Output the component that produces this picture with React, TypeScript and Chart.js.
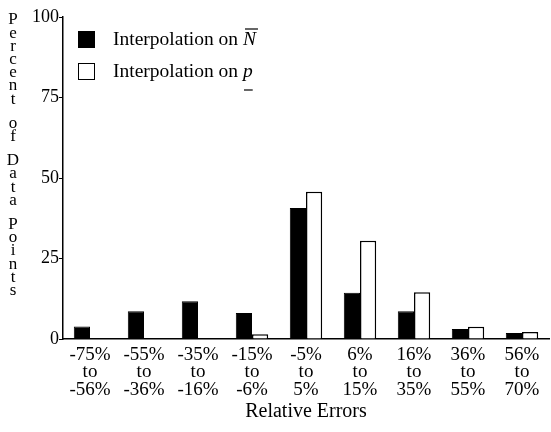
import React, { useEffect, useRef } from "react";
import { Chart, registerables } from "chart.js";

Chart.register(...registerables);

// Relative-error bins, one three-line label each
const categories: string[][] = [
  ["-75%", "to", "-56%"],
  ["-55%", "to", "-36%"],
  ["-35%", "to", "-16%"],
  ["-15%", "to", "-6%"],
  ["-5%", "to", "5%"],
  ["6%", "to", "15%"],
  ["16%", "to", "35%"],
  ["36%", "to", "55%"],
  ["56%", "to", "70%"],
];

// Percent of data points falling in each bin
const nBarValues = [3.9, 8.6, 11.7, 8.1, 40.7, 14.4, 8.6, 3.1, 1.9];
const pValues = [0, 0, 0, 1.5, 45.7, 30.5, 14.5, 3.8, 2.2];

const yTicks = [0, 25, 50, 75, 100];
const yTitle = "Percent of Data Points";
const xTitle = "Relative Errors";

const legendPrefix = "Interpolation on ";
const legendSymbols = ["N", "p"];
const legendMarks = ["over", "under"];

const SERIF = '"Liberation Serif", "Times New Roman", serif';

// Vertical axis title: upright letters stacked one above another
const stackedTitle = {
  id: "stackedTitle",
  afterDraw(chart: any) {
    const ctx = chart.ctx;
    ctx.save();
    ctx.font = `17px ${SERIF}`;
    ctx.fillStyle = "#000";
    ctx.textAlign = "center";
    ctx.textBaseline = "middle";
    let y = 20;
    for (const word of yTitle.split(" ")) {
      for (const ch of word) {
        ctx.fillText(ch, 13, y);
        y += 13.2;
      }
      y += 11;
    }
    ctx.restore();
  },
};

// Boxed legend with an italic symbol and its bar mark
const symbolLegend = {
  id: "symbolLegend",
  afterDraw(chart: any) {
    const ctx = chart.ctx;
    ctx.save();
    chart.data.datasets.forEach((ds: any, i: number) => {
      const bx = 78;
      const by = 31 + i * 32;
      ctx.fillStyle = ds.backgroundColor;
      ctx.fillRect(bx, by, 17, 17);
      ctx.strokeStyle = "#000";
      ctx.lineWidth = 1;
      ctx.strokeRect(bx + 0.5, by + 0.5, 16, 16);

      const base = by + 14;
      ctx.fillStyle = "#000";
      ctx.textBaseline = "alphabetic";
      ctx.textAlign = "left";
      ctx.font = `19.5px ${SERIF}`;
      const tx = 113;
      ctx.fillText(legendPrefix, tx, base);
      const w = ctx.measureText(legendPrefix).width;
      ctx.font = `italic 19.5px ${SERIF}`;
      const sym = legendSymbols[i];
      ctx.fillText(sym, tx + w, base);
      const sw = ctx.measureText(sym).width;
      ctx.lineWidth = 1.2;
      ctx.beginPath();
      if (legendMarks[i] === "over") {
        ctx.moveTo(tx + w + 2, base - 16);
        ctx.lineTo(tx + w + sw + 2, base - 16);
      } else {
        ctx.moveTo(tx + w + 1, base + 13);
        ctx.lineTo(tx + w + sw, base + 13);
      }
      ctx.stroke();
    });
    ctx.restore();
  },
};

export default function App() {
  const canvasRef = useRef<HTMLCanvasElement>(null);

  useEffect(() => {
    if (!canvasRef.current) return;
    const chart = new Chart(canvasRef.current, {
      type: "bar",
      data: {
        labels: categories,
        datasets: [
          {
            label: legendPrefix + legendSymbols[0],
            data: nBarValues,
            backgroundColor: "#000",
            borderColor: "#000",
            borderWidth: 1,
          },
          {
            label: legendPrefix + legendSymbols[1],
            data: pValues,
            backgroundColor: "#fff",
            borderColor: "#000",
            borderWidth: 1.5,
          },
        ],
      },
      plugins: [stackedTitle, symbolLegend],
      options: {
        animation: false,
        responsive: false,
        devicePixelRatio: 1,
        layout: { padding: { top: 17, right: 2, bottom: 0, left: 0 } },
        datasets: {
          bar: { categoryPercentage: 0.6, barPercentage: 1.0 },
        },
        plugins: {
          legend: { display: false },
          tooltip: { enabled: false },
        },
        scales: {
          x: {
            grid: { display: false, drawTicks: false },
            border: { display: true, color: "#000", width: 1.5 },
            ticks: {
              color: "#000",
              padding: 7,
              maxRotation: 0,
              autoSkip: false,
              font: { family: SERIF, size: 19, lineHeight: 0.93 },
            },
            title: {
              display: true,
              text: xTitle,
              color: "#000",
              font: { family: SERIF, size: 20 },
              padding: { top: 0, bottom: 8 },
            },
            afterFit(scale: any) {
              scale.height = 93;
            },
          },
          y: {
            min: 0,
            max: 100,
            afterBuildTicks(scale: any) {
              scale.ticks = yTicks.map((v) => ({ value: v }));
            },
            grid: {
              drawOnChartArea: false,
              drawTicks: true,
              tickLength: 4,
              color: "#000",
              lineWidth: 1,
            },
            border: { display: true, color: "#000", width: 1.5 },
            ticks: {
              color: "#000",
              padding: 0,
              font: { family: SERIF, size: 18 },
            },
            afterFit(scale: any) {
              scale.width = 63;
            },
          },
        },
      },
    });
    return () => chart.destroy();
  }, []);

  return (
    <div style={{ position: "absolute", left: 0, top: 0, width: 551, height: 432, background: "#fff" }}>
      <canvas ref={canvasRef} width={551} height={432} />
    </div>
  );
}
